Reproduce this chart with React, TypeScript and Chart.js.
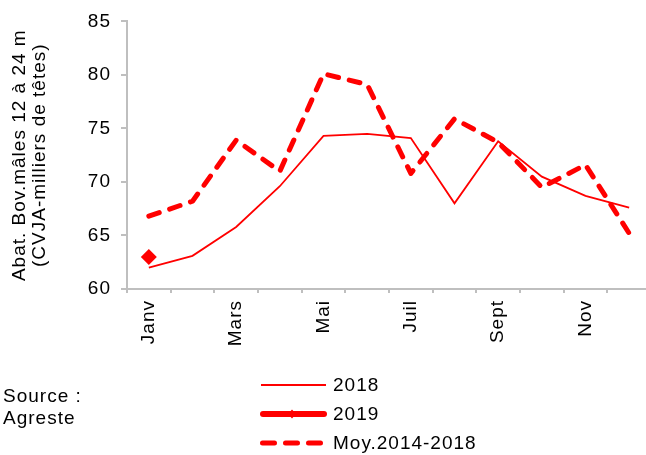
import React, { useEffect, useRef } from "react";
import { Chart, registerables } from "chart.js";

Chart.register(...registerables);

const months = ["Janv", "Févr", "Mars", "Avr", "Mai", "Juin", "Juil", "Août", "Sept", "Oct", "Nov", "Déc"];
const xTickLabels = ["Janv", "", "Mars", "", "Mai", "", "Juil", "", "Sept", "", "Nov", ""];
const values2018 = [62.0, 63.1, 65.8, 69.6, 74.3, 74.5, 74.1, 68.0, 73.8, 70.5, 68.7, 67.6];
const values2019 = [63.0, null, null, null, null, null, null, null, null, null, null, null];
const valuesAvg = [66.8, 68.2, 73.9, 71.0, 80.1, 79.1, 70.8, 75.9, 73.7, 69.5, 71.6, 65.2];
const seriesNames = ["2018", "2019", "Moy.2014-2018"];
const yTitle = ["Abat. Bov.mâles 12 à 24 m", "(CVJA-milliers de têtes)"];
const sourceLines = ["Source :", "Agreste"];
const yMin = 60;
const yMax = 85;
const yStep = 5;

const FONT = "'Liberation Sans', Arial, sans-serif";
const RED = "#FF0000";
const AXIS = "#BFBFBF";
const SPACING = "1px";
const FS = 19;

const spacingPlugin = {
  id: "spacing",
  beforeLayout(chart: any) {
    chart.ctx.letterSpacing = SPACING;
  },
  beforeDraw(chart: any) {
    chart.ctx.letterSpacing = SPACING;
  },
};

const legendPlugin = {
  id: "customLegend",
  afterDraw(chart: any) {
    const ctx = chart.ctx as CanvasRenderingContext2D;
    ctx.save();
    (ctx as any).letterSpacing = SPACING;
    ctx.font = `${FS}px ${FONT}`;
    ctx.fillStyle = "#000";
    ctx.textBaseline = "middle";
    ctx.textAlign = "left";
    const x0 = 262;
    const x1 = 325;
    const tx = 333;
    const rows = [385, 414, 443];

    // 2018
    ctx.strokeStyle = RED;
    ctx.lineWidth = 2;
    ctx.beginPath();
    ctx.moveTo(x0 - 1, rows[0]);
    ctx.lineTo(x1 + 1, rows[0]);
    ctx.stroke();

    // 2019
    ctx.lineWidth = 6;
    ctx.lineCap = "round";
    ctx.beginPath();
    ctx.moveTo(x0 + 1, rows[1]);
    ctx.lineTo(x1 - 1, rows[1]);
    ctx.stroke();
    ctx.fillStyle = RED;
    const dx = 292;
    ctx.beginPath();
    ctx.moveTo(dx - 4, rows[1]);
    ctx.lineTo(dx, rows[1] - 4.5);
    ctx.lineTo(dx + 4, rows[1]);
    ctx.lineTo(dx, rows[1] + 4.5);
    ctx.closePath();
    ctx.fill();

    // Moy
    ctx.lineWidth = 5;
    ctx.setLineDash([12, 11]);
    ctx.beginPath();
    ctx.moveTo(x0 + 0.5, rows[2]);
    ctx.lineTo(x1 - 3, rows[2]);
    ctx.stroke();
    ctx.setLineDash([]);

    ctx.fillStyle = "#000";
    seriesNames.forEach((name, i) => ctx.fillText(name, tx, rows[i] + 1));

    sourceLines.forEach((t, i) => ctx.fillText(t, 3, 397 + i * 22));
    ctx.restore();
  },
};

export default function App() {
  const canvasRef = useRef<HTMLCanvasElement | null>(null);

  useEffect(() => {
    document.body.style.margin = "0";
    document.body.style.overflow = "hidden";
    const canvas = canvasRef.current;
    if (!canvas) return;
    const chart = new Chart(canvas, {
      type: "line",
      data: {
        labels: months,
        datasets: [
          {
            label: seriesNames[0],
            data: values2018,
            borderColor: RED,
            backgroundColor: RED,
            borderWidth: 1.8,
            pointRadius: 0,
            tension: 0,
            order: 2,
          },
          {
            label: seriesNames[1],
            data: values2019,
            borderColor: RED,
            backgroundColor: RED,
            borderWidth: 6,
            pointStyle: "rectRot",
            pointRadius: 8,
            pointBorderWidth: 0,
            order: 1,
          },
          {
            label: seriesNames[2],
            data: valuesAvg,
            borderColor: RED,
            backgroundColor: RED,
            borderWidth: 5,
            borderDash: [11, 11],
            borderCapStyle: "round",
            borderJoinStyle: "round",
            pointRadius: 0,
            tension: 0,
            order: 0,
          },
        ] as any,
      },
      options: {
        responsive: false,
        animation: false,
        events: [],
        layout: { padding: { left: 0, top: 21, right: 9, bottom: 106 } },
        plugins: {
          legend: { display: false },
          tooltip: { enabled: false },
        },
        scales: {
          x: {
            offset: true,
            grid: {
              offset: true,
              drawOnChartArea: false,
              drawTicks: true,
              tickLength: 4,
              color: AXIS,
              lineWidth: 2,
            },
            border: { color: AXIS, width: 2 },
            ticks: {
              autoSkip: false,
              maxRotation: 90,
              minRotation: 90,
              padding: 7,
              color: "#000",
              font: { family: FONT, size: FS },
              callback: (_v: any, i: number) => xTickLabels[i],
            },
            afterFit: (s: any) => {
              s.height = 60;
            },
          } as any,
          y: {
            min: yMin,
            max: yMax,
            ticks: {
              stepSize: yStep,
              padding: 10,
              color: "#000",
              font: { family: FONT, size: FS },
            },
            grid: {
              drawOnChartArea: false,
              drawTicks: true,
              tickLength: 6,
              color: AXIS,
              lineWidth: 2,
            },
            border: { color: AXIS, width: 2 },
            title: {
              display: true,
              text: yTitle,
              color: "#000",
              font: { family: FONT, size: FS, lineHeight: 1.05 },
              padding: { top: 10, bottom: 0 },
            },
            afterFit: (s: any) => {
              s.width = 127;
            },
          } as any,
        },
      },
      plugins: [spacingPlugin, legendPlugin],
    });
    return () => chart.destroy();
  }, []);

  return (
    <div style={{ width: 646, height: 455, overflow: "hidden", background: "#fff" }}>
      <canvas ref={canvasRef} width={660} height={455} style={{ display: "block" }} />
    </div>
  );
}
